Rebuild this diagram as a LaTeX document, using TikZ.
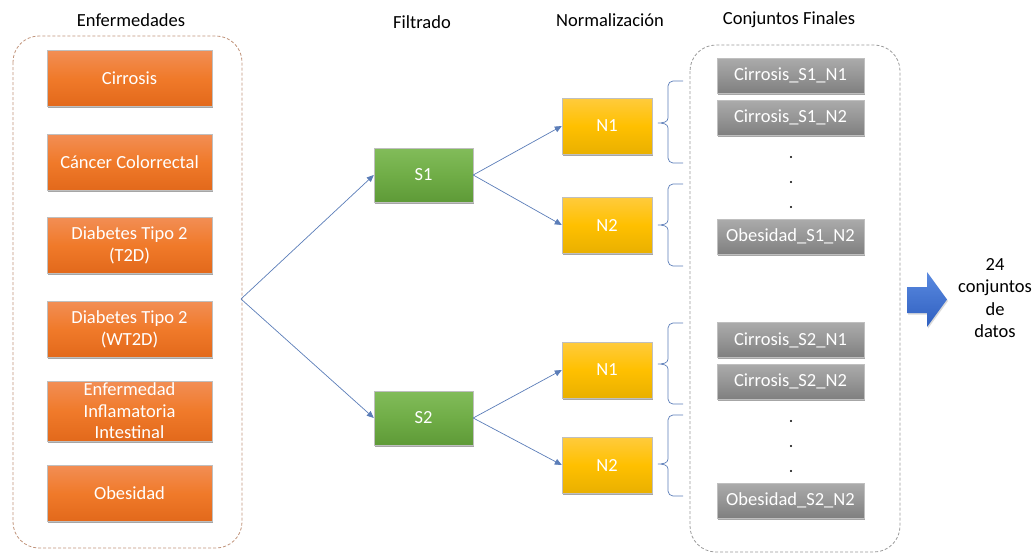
\documentclass[tikz,border=0pt]{standalone}
\usepackage{fontspec}
\setmainfont{Carlito}
\usetikzlibrary{shadows,arrows.meta,calc}
\definecolor{orA}{HTML}{F28E55}
\definecolor{orB}{HTML}{F07A2A}
\definecolor{orC}{HTML}{E2691B}
\definecolor{grA}{HTML}{82BC5A}
\definecolor{grB}{HTML}{70AD47}
\definecolor{grC}{HTML}{5E9A37}
\definecolor{yeA}{HTML}{FFCB3D}
\definecolor{yeB}{HTML}{FFC000}
\definecolor{yeC}{HTML}{E9B000}
\definecolor{gyA}{HTML}{ABABAB}
\definecolor{gyB}{HTML}{969696}
\definecolor{gyC}{HTML}{7F7F7F}
\definecolor{blA}{HTML}{5A8AE0}
\definecolor{blC}{HTML}{2F5FC0}
\definecolor{lineblue}{HTML}{5B7DB8}
\definecolor{dashbrown}{HTML}{C0937A}
\definecolor{dashgray}{HTML}{9A9A9A}
\tikzset{
  every node/.style={font=\fontsize{18.5}{22}\selectfont},
  basebox/.style={rectangle, inner sep=0pt, text=white, align=center,
    draw=black!25, line width=0.4pt,
    drop shadow={shadow xshift=1pt, shadow yshift=-1.8pt, opacity=0.35, fill=black}},
  orbox/.style={basebox, minimum width=165pt, minimum height=56pt,
    top color=orA, bottom color=orC, middle color=orB},
  grbox/.style={basebox, minimum width=99pt, minimum height=54pt,
    top color=grA, bottom color=grC, middle color=grB},
  yebox/.style={basebox, minimum width=90pt, minimum height=56pt,
    top color=yeA, bottom color=yeC, middle color=yeB},
  gybox/.style={basebox, minimum width=147pt, minimum height=35pt,
    top color=gyA, bottom color=gyC, middle color=gyB},
  title/.style={text=black},
  conn/.style={draw=lineblue, line width=0.7pt, -{Triangle[width=6pt,length=7pt]}},
  bracepath/.style={draw=lineblue, line width=0.7pt},
  container/.style={rounded corners=26pt, line width=0.8pt, dash pattern=on 3pt off 2pt},
  dotnode/.style={circle, fill=black, inner sep=0pt, minimum size=2.4pt}
}
\begin{document}
\begin{tikzpicture}[x=1pt,y=-1pt]
\useasboundingbox (0,0) rectangle (1036,554);
% containers
\draw[container, draw=dashbrown] (13,36) rectangle (242,548);
\draw[container, draw=dashgray] (690,45) rectangle (900,552);
% titles
\node[title] (tEnf) at (131,20) {Enfermedades};
\node[title] (tFil) at (422,22) {Filtrado};
\node[title] (tNor) at (610,20) {Normalización};
\node[title] (tCon) at (789,20) {Conjuntos Finales};
% diseases
\node[orbox] (d1) at (129.5,78) {Cirrosis};
\node[orbox] (d2) at (129.5,162) {Cáncer Colorrectal};
\node[orbox] (d3) at (129.5,245) {Diabetes Tipo 2\\(T2D)};
\node[orbox] (d4) at (129.5,329) {Diabetes Tipo 2\\(WT2D)};
\node[orbox, minimum height=60pt, font=\fontsize{18.5}{21.5}\selectfont] (d5) at (129.5,411) {Enfermedad\\Inflamatoria\\Intestinal};
\node[orbox] (d6) at (129.5,493) {Obesidad};
% filtering
\coordinate (br) at (241,299);
\node[grbox] (s1) at (423.5,175) {S1};
\node[grbox] (s2) at (423.5,418) {S2};
% normalization
\node[yebox] (n11) at (607,126) {N1};
\node[yebox] (n12) at (607,225) {N2};
\node[yebox] (n21) at (607,370) {N1};
\node[yebox] (n22) at (607,465) {N2};
% connectors
\draw[conn] (br) -- (s1.west);
\draw[conn] (br) -- (s2.west);
\draw[conn] (s1.east) -- (n11.west);
\draw[conn] (s1.east) -- (n12.west);
\draw[conn] (s2.east) -- (n21.west);
\draw[conn] (s2.east) -- (n22.west);
% braces
\foreach \yt/\ym/\yb in {81/123/163, 184/225/266, 323/364/404, 415/464/496}{
  \draw[bracepath] (683,\yt) -- (673,\yt) to[out=180,in=90] (668,\yt+5) -- (668,\ym-5)
     to[out=-90,in=0] (658,\ym) to[out=0,in=90] (668,\ym+5) -- (668,\yb-5)
     to[out=-90,in=180] (673,\yb) -- (683,\yb);
}
% final sets
\node[gybox] (f1) at (790.5,75.5) {Cirrosis\_S1\_N1};
\node[gybox] (f2) at (790.5,117.5) {Cirrosis\_S1\_N2};
\node[dotnode] (p1) at (791,157) {};
\node[dotnode] (p2) at (791,182) {};
\node[dotnode] (p3) at (791,207) {};
\node[gybox] (f3) at (790.5,236.5) {Obesidad\_S1\_N2};
\node[gybox] (f4) at (790.5,340) {Cirrosis\_S2\_N1};
\node[gybox] (f5) at (790.5,381.5) {Cirrosis\_S2\_N2};
\node[dotnode] (p4) at (791,421) {};
\node[dotnode] (p5) at (791,446) {};
\node[dotnode] (p6) at (791,471) {};
\node[gybox] (f6) at (790.5,500.5) {Obesidad\_S2\_N2};
% big arrow
\shade[top color=blA, bottom color=blC, drop shadow={shadow xshift=1pt, shadow yshift=-1.5pt, opacity=0.3}]
  (907,287) -- (927,287) -- (927,272) -- (947,299.5) -- (927,327) -- (927,313) -- (907,313) -- cycle;
\node[title, align=center, font=\fontsize{18.5}{22.5}\selectfont] (res) at (995,298) {24\\conjuntos\\de\\datos};
\end{tikzpicture}
\end{document}
